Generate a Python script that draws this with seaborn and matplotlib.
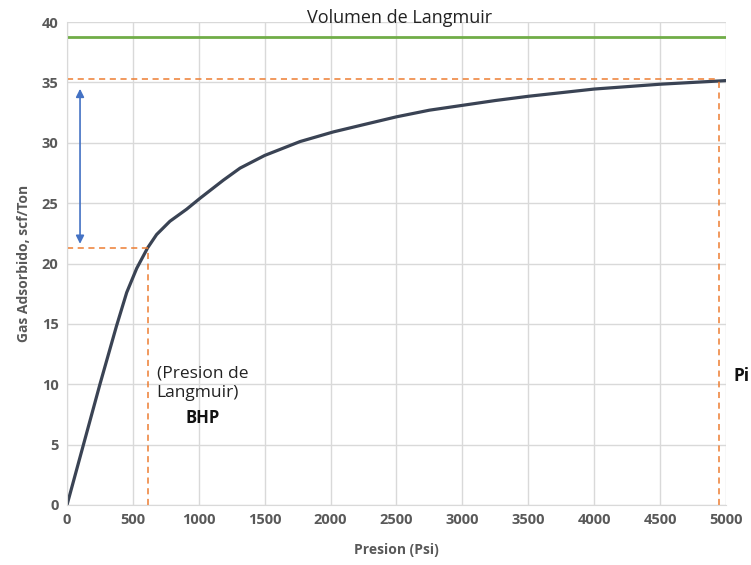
import matplotlib
matplotlib.use("Agg")
import matplotlib.pyplot as plt
import seaborn as sns
import pandas as pd

# isoterma de Langmuir
presion = [0, 125, 250, 375, 453, 529, 612, 680, 781, 908, 1009, 1186, 1313, 1500,
           1768, 2021, 2250, 2500, 2750, 3000, 3250, 3500, 4000, 4500, 5000]
gas_ads = [0, 5.0, 10.0, 14.8, 17.6, 19.6, 21.3, 22.4, 23.5, 24.5, 25.4, 26.9, 27.9, 28.95,
           30.1, 30.9, 31.5, 32.15, 32.7, 33.1, 33.5, 33.85, 34.45, 34.85, 35.15]

vol_langmuir = 38.8
bhp = [612, 21.3]
pi = [4950, 35.3]

df = pd.DataFrame({"Presion": presion, "Gas": gas_ads})

sns.set_style("whitegrid")
plt.rcParams['font.family'] = ['Open Sans', 'DejaVu Sans']

fig = plt.figure(figsize=(7.51, 5.65), dpi=100)
ax = fig.add_axes([0.0892, 0.1062, 0.8775, 0.8548])

sns.lineplot(data=df, x="Presion", y="Gas", color="#3A4354", linewidth=2.3, ax=ax)

ax.axhline(vol_langmuir, color="#70AD47", linewidth=2)

orange = "#ED7D31"
ax.plot([0, bhp[0]], [bhp[1], bhp[1]], ls=(0, (4, 3)), color=orange, lw=1.1)
ax.plot([bhp[0], bhp[0]], [0, bhp[1]], ls=(0, (4, 3)), color=orange, lw=1.1)
ax.plot([0, pi[0]], [pi[1], pi[1]], ls=(0, (4, 3)), color=orange, lw=1.1)
ax.plot([pi[0], pi[0]], [0, pi[1]], ls=(0, (4, 3)), color=orange, lw=1.1)

ax.annotate("", xy=(99, 21.4), xytext=(99, 34.7),
            arrowprops=dict(arrowstyle="<|-|>", color="#4472C4", lw=1.2, mutation_scale=12))

ax.text(2520, 40.3, "Volumen de Langmuir", ha="center", va="center", fontsize=13, color="#222222")
ax.text(680, 10.1, "(Presion de\nLangmuir)", ha="left", va="center", fontsize=12.5,
        color="#222222", linespacing=1.3)
ax.text(1030, 7.2, "BHP", ha="center", va="center", fontsize=12, fontweight="bold", color="#111111")
ax.text(5060, 10.7, "Pi", ha="left", va="center", fontsize=12.5, fontweight="bold",
        color="#111111", clip_on=False)

ax.set_xlim(0, 5000)
ax.set_ylim(0, 40)
ax.set_xticks(range(0, 5001, 500))
ax.set_yticks(range(0, 41, 5))
ax.grid(True, color="#D9D9D9", linewidth=1)
for s in ax.spines.values():
    s.set_visible(False)
ax.spines["left"].set_visible(True)
ax.spines["left"].set_color("#D9D9D9")
ax.spines["bottom"].set_visible(True)
ax.spines["bottom"].set_color("#D9D9D9")
ax.tick_params(colors="#595959", labelsize=10.5, length=0, pad=6)
for lbl in ax.get_xticklabels() + ax.get_yticklabels():
    lbl.set_fontweight("bold")

ax.set_xlabel("Presion (Psi)", fontsize=10, fontweight="bold", color="#595959", labelpad=11)
ax.set_ylabel("Gas Adsorbido, scf/Ton", fontsize=10, fontweight="bold", color="#595959", labelpad=8)

fig.savefig("out.png", dpi=100)
